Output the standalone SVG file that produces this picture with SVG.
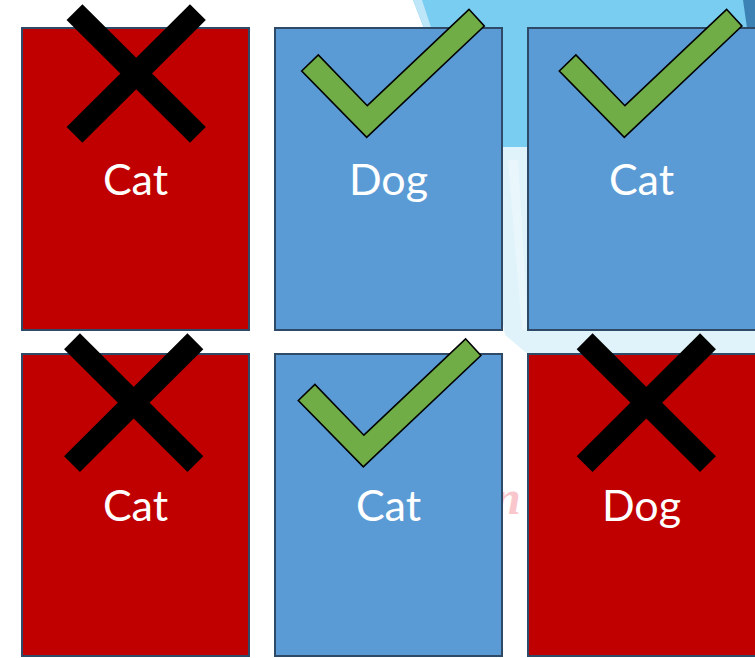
<svg xmlns="http://www.w3.org/2000/svg" width="755" height="658" viewBox="0 0 755 658">
<defs>
<style>
.card{stroke:#2E4A66;stroke-width:2}
.red{fill:#C00000}
.blue{fill:#5B9BD5}
.lbl{font-family:Lato,"Open Sans","Liberation Sans",sans-serif;font-size:43px;fill:#FFFFFF;text-anchor:middle}
.xm{stroke:#000000;stroke-width:22.5;stroke-linecap:butt}
.ck{fill:#70AD47;stroke:#000000;stroke-width:1.6;stroke-linejoin:miter}
</style>
<polygon id="check" points="301.7,71 318.3,55 367.3,105.7 469,9.3 484.3,26 366.7,137.3"/>
</defs>
<rect width="755" height="658" fill="#FFFFFF"/>
<g id="background">
<polygon points="470,147 755,147 755,356 530,356 505,335" fill="#E1F3FA"/>
<polygon points="508,160 518,160 528,330 522,330" fill="#E9F6FC"/>
<polygon points="413,0 755,0 755,147 470,147" fill="#79CDF0"/>
<polygon points="413,0 422,0 445,70 436,58" fill="#BDE6F8"/>
<polygon points="743,0 755,0 755,30 747,28" fill="#3C82B4"/>
<text x="494" y="514" font-family="'Liberation Serif',serif" font-style="italic" font-weight="bold" font-size="48" fill="#F9C6CB">n</text>
</g>
<g id="card1">
<rect class="card red" x="22" y="28" width="227" height="302"/>
<line class="xm" x1="74.5" y1="12.1" x2="197.9" y2="134.9"/>
<line class="xm" x1="74.5" y1="134.9" x2="197.9" y2="12.1"/>
<text class="lbl" x="135.5" y="195">Cat</text>
</g>
<g id="card2">
<rect class="card blue" x="275" y="28" width="227" height="302"/>
<use href="#check" class="ck"/>
<text class="lbl" x="388.5" y="195">Dog</text>
</g>
<g id="card3">
<rect class="card blue" x="528" y="28" width="228" height="302"/>
<use href="#check" class="ck" transform="translate(257.6,0)"/>
<text class="lbl" x="641.5" y="195">Cat</text>
</g>
<g id="card4">
<rect class="card red" x="22" y="354" width="227" height="302"/>
<line class="xm" x1="72" y1="341.3" x2="195.4" y2="464.1"/>
<line class="xm" x1="72" y1="464.1" x2="195.4" y2="341.3"/>
<text class="lbl" x="135.5" y="521">Cat</text>
</g>
<g id="card5">
<rect class="card blue" x="275" y="354" width="227" height="302"/>
<use href="#check" class="ck" transform="translate(-3.4,329.5)"/>
<text class="lbl" x="388.5" y="521">Cat</text>
</g>
<g id="card6">
<rect class="card red" x="528" y="354" width="228" height="302"/>
<line class="xm" x1="584.6" y1="341.3" x2="708" y2="464.1"/>
<line class="xm" x1="584.6" y1="464.1" x2="708" y2="341.3"/>
<text class="lbl" x="641.5" y="521">Dog</text>
</g>
<g id="connectors"/>
</svg>
